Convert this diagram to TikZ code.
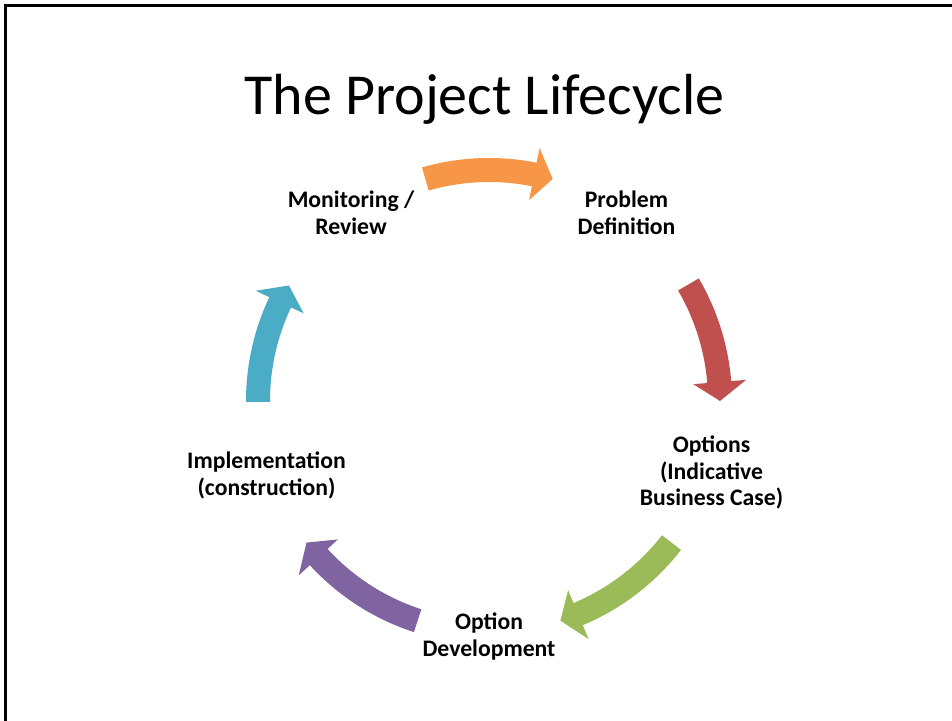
\documentclass[tikz,border=0pt]{standalone}
\usepackage{fontspec}
\setmainfont{Carlito}
\usetikzlibrary{calc}
\definecolor{accOrange}{HTML}{F79646}
\definecolor{accRed}{HTML}{C0504D}
\definecolor{accGreen}{HTML}{9BBB59}
\definecolor{accPurple}{HTML}{8064A2}
\definecolor{accCyan}{HTML}{4BACC6}
\newcommand\cycarrow[3]{%
  \pgfmathsetmacro\cycAb{#3+4.7}%
  \fill[#1] ($(C)+(#2:243pt)$) arc[start angle=#2, end angle=\cycAb, radius=243pt]
    -- ($(C)+(\cycAb:258pt)$) -- ($(C)+(#3:231pt)$) -- ($(C)+(\cycAb:205pt)$)
    -- ($(C)+(\cycAb:219pt)$) arc[start angle=\cycAb, end angle=#2, radius=219pt] -- cycle;
}
\begin{document}
\begin{tikzpicture}[x=1pt,y=1pt,
  lbl/.style={font=\fontsize{23.7}{26.5}\selectfont\bfseries, align=center, inner sep=0pt, anchor=base},
  ttl/.style={font=\fontsize{58}{70}\selectfont, inner sep=0pt, anchor=base}]
\useasboundingbox (0,0) rectangle (952,720);
\fill[white] (0,0) rectangle (952,720);
\draw[line width=2.6pt] (5.5,-2) -- (5.5,714.5) -- (954,714.5);
\coordinate (C) at (489,319);
\node[ttl] (title) at (484.5,605) {The Project Lifecycle};
\node[lbl] (mon) at (351,485.5) {Monitoring /\\Review};
\node[lbl] (prob) at (626.5,485.5) {Problem\\Definition};
\node[lbl] (opt) at (711.5,214) {Options\\(Indicative\\Business Case)};
\node[lbl] (dev) at (489,64) {Option\\Development};
\node[lbl] (impl) at (266.5,224.5) {Implementation\\(construction)};
\cycarrow{accOrange}{106}{74}
\cycarrow{accRed}{30.3}{0}
\cycarrow{accGreen}{-37.8}{-72}
\cycarrow{accPurple}{-108}{-142.2}
\cycarrow{accCyan}{180.2}{150}
\end{tikzpicture}
\end{document}
